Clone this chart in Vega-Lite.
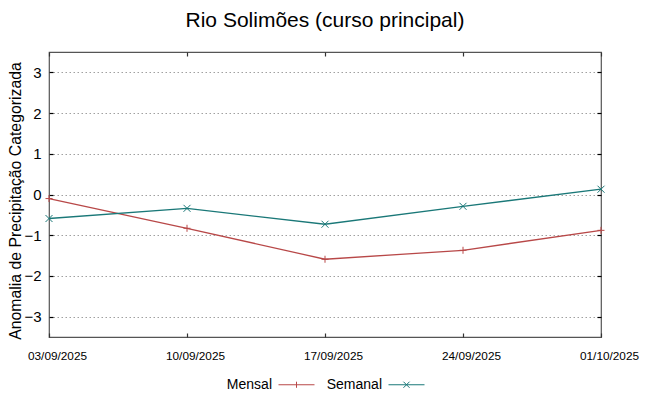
{
  "$schema": "https://vega.github.io/schema/vega-lite/v6.json",
  "width": 552,
  "height": 285,
  "autosize": "none",
  "padding": {"left": 49, "top": 52, "right": 48, "bottom": 59},
  "background": "white",
  "title": {"text": "Rio Solimões (curso principal)", "fontSize": 21, "font": "Liberation Sans", "fontWeight": "normal", "color": "#000", "offset": 20},
  "config": {
    "view": {"stroke": "#555", "strokeWidth": 1.2},
    "font": "Liberation Sans"
  },
  "data": {"values": [
    {"date": "03/09/2025", "serie": "Mensal", "value": -0.1},
    {"date": "10/09/2025", "serie": "Mensal", "value": -0.83},
    {"date": "17/09/2025", "serie": "Mensal", "value": -1.59},
    {"date": "24/09/2025", "serie": "Mensal", "value": -1.37},
    {"date": "01/10/2025", "serie": "Mensal", "value": -0.88},
    {"date": "03/09/2025", "serie": "Semanal", "value": -0.59},
    {"date": "10/09/2025", "serie": "Semanal", "value": -0.34},
    {"date": "17/09/2025", "serie": "Semanal", "value": -0.73},
    {"date": "24/09/2025", "serie": "Semanal", "value": -0.29},
    {"date": "01/10/2025", "serie": "Semanal", "value": 0.13}
  ]},
  "resolve": {"axis": {"x": "independent", "y": "independent"}},
  "layer": [
    {
      "mark": {"type": "line", "strokeWidth": 1.3},
      "encoding": {
        "x": {"field": "date", "type": "ordinal", "sort": null,
          "scale": {"type": "point", "padding": 0},
          "axis": {"orient": "top", "title": null, "labels": false, "tickSize": -4, "tickColor": "#333", "tickWidth": 1.2, "domain": false, "grid": false}},
        "y": {"field": "value", "type": "quantitative",
          "scale": {"domain": [-3.5, 3.5], "nice": false, "zero": false},
          "axis": {"orient": "right", "title": null, "labels": false, "values": [-3, -2, -1, 0, 1, 2, 3], "tickSize": -4, "tickColor": "#000", "tickWidth": 1.2, "domain": false, "grid": false}},
        "color": {"field": "serie", "type": "nominal",
          "scale": {"domain": ["Mensal", "Semanal"], "range": ["#b84848", "#1a7878"]},
          "legend": {"title": null, "orient": "none", "direction": "horizontal", "columns": 2, "legendX": 229, "legendY": 314,
            "labelFontSize": 14, "labelColor": "#000", "labelAlign": "right", "labelOffset": -43, "columnPadding": 9,
            "symbolSize": 1296, "symbolStrokeWidth": 1,
            "encode": {"symbols": {"update": {
              "shape": {"signal": "datum.value === 'Mensal' ? 'M-1,0L1,0M0,-0.17L0,0.17' : 'M-1,0L1,0M-0.17,-0.17L0.17,0.17M-0.17,0.17L0.17,-0.17'"},
              "stroke": {"signal": "datum.value === 'Mensal' ? '#a00000' : '#007070'"},
              "fill": {"value": "transparent"}
            }}}}}
      }
    },
    {
      "transform": [{"filter": "datum.serie === 'Mensal'"}],
      "mark": {"type": "point", "filled": false, "strokeWidth": 1, "size": 49, "opacity": 1, "shape": "M-1,0L1,0M0,-1L0,1"},
      "encoding": {
        "x": {"field": "date", "type": "ordinal", "sort": null,
          "scale": {"type": "point", "padding": 0},
          "axis": {"title": null, "labelAngle": 0, "labelFontSize": 11.8, "labelColor": "#000", "labelPadding": 17, "labelOffset": 8, "tickSize": -4, "tickColor": "#333", "tickWidth": 1.2, "domain": false, "grid": false}},
        "y": {"field": "value", "type": "quantitative",
          "scale": {"domain": [-3.5, 3.5], "nice": false, "zero": false},
          "axis": {"title": "Anomalia de Precipitação Categorizada", "titleFontSize": 15.8, "titleFontWeight": "normal", "titleColor": "#000", "titlePadding": 0, "titleY": 148.5, "values": [-3, -2, -1, 0, 1, 2, 3], "labelFontSize": 15, "labelColor": "#000", "labelPadding": 12, "tickSize": -4, "tickColor": "#000", "tickWidth": 1.2, "domain": false, "grid": true, "gridColor": "#a0a0a0", "gridDash": [1.5, 2.5], "gridWidth": 1}},
        "color": {"field": "serie", "type": "nominal"}
      }
    },
    {
      "transform": [{"filter": "datum.serie === 'Semanal'"}],
      "mark": {"type": "point", "filled": false, "strokeWidth": 1, "size": 49, "opacity": 1, "shape": "M-1,-1L1,1M-1,1L1,-1"},
      "encoding": {
        "x": {"field": "date", "type": "ordinal", "sort": null,
          "scale": {"type": "point", "padding": 0}, "axis": null},
        "y": {"field": "value", "type": "quantitative",
          "scale": {"domain": [-3.5, 3.5], "nice": false, "zero": false}, "axis": null},
        "color": {"field": "serie", "type": "nominal"}
      }
    }
  ]
}
